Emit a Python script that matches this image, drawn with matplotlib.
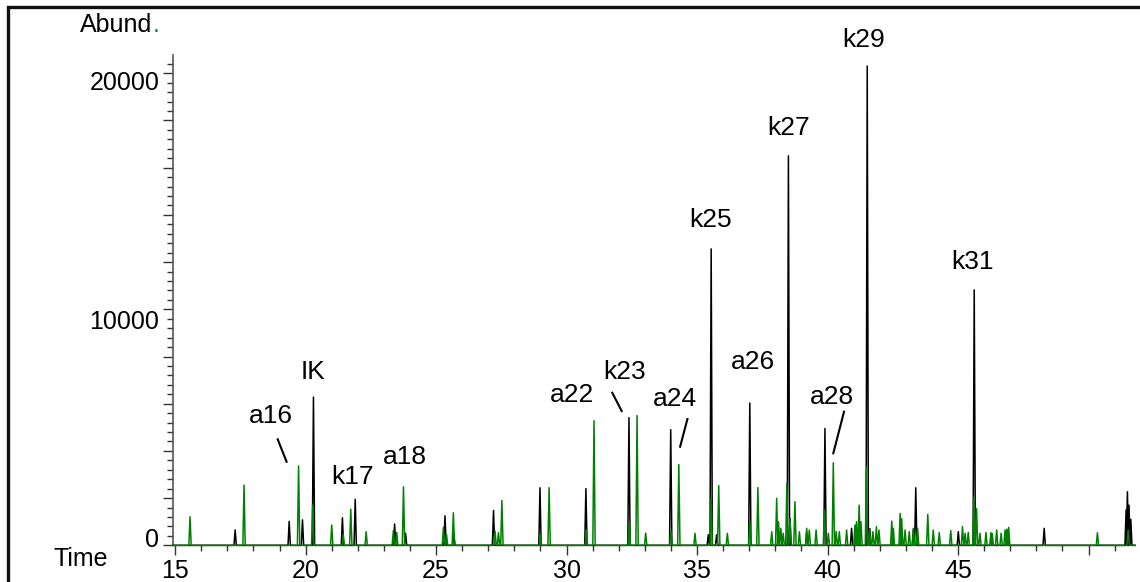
import numpy as np
import matplotlib.pyplot as plt
from matplotlib.patches import Rectangle
from matplotlib.ticker import MultipleLocator, FixedLocator
from matplotlib.transforms import ScaledTranslation

plt.rcParams['font.family'] = ['Liberation Sans', 'DejaVu Sans']

# Peak list of the black trace: retention time [min], abundance
black_t = [17.30, 19.37, 19.88, 20.30, 21.41, 21.90, 23.41, 23.83, 25.34, 25.68,
           27.20, 28.98, 30.74, 32.39, 33.99, 35.43, 35.54, 35.75, 37.02, 38.50,
           38.56, 39.20, 39.90, 40.92, 41.52, 41.62, 43.29, 43.38, 45.01, 45.62,
           48.30, 51.44, 51.49, 51.55, 51.62]
black_h = [650, 1017, 1080, 6280, 1170, 1950, 900, 510, 1250, 500,
           1480, 2440, 2400, 5410, 4900, 450, 12560, 450, 6030, 16500,
           1140, 550, 4950, 720, 20310, 700, 700, 2440, 580, 10820,
           720, 1500, 2270, 1700, 1100]

# Peak list of the green trace
green_t = [15.57, 17.64, 19.73, 20.27, 21.00, 21.44, 21.73, 22.32, 23.36, 23.49,
           23.75, 25.28, 25.40, 25.66, 27.26, 27.39, 27.52, 29.00, 29.33, 30.76,
           31.05, 32.40, 32.70, 33.03, 34.00, 34.30, 34.92, 35.54, 35.83, 36.16,
           37.02, 37.33, 37.86, 38.05, 38.12, 38.21, 38.30, 38.44, 38.56, 38.75,
           38.92, 39.20, 39.30, 39.56, 39.88, 40.03, 40.22, 40.33, 40.45, 40.73,
           41.05, 41.11, 41.21, 41.28, 41.49, 41.61, 41.74, 41.87, 41.97, 42.46,
           42.52, 42.78, 42.84, 42.97, 43.13, 43.29, 43.45, 43.84, 44.05, 44.28,
           44.72, 45.17, 45.27, 45.39, 45.61, 45.71, 45.84, 46.07, 46.26, 46.31,
           46.48, 46.65, 46.80, 46.87, 46.94, 50.34, 51.52]
green_h = [1210, 2555, 3360, 1710, 860, 470, 1525, 575, 620, 550,
           2480, 760, 450, 1380, 600, 540, 1900, 450, 2444, 650,
           5280, 1000, 5500, 520, 620, 3420, 508, 1990, 2530, 508,
           1070, 2444, 577, 1990, 1000, 720, 508, 2627, 1140, 1850,
           577, 720, 650, 650, 1500, 510, 3500, 580, 580, 650,
           860, 1000, 1700, 1000, 3316, 650, 580, 790, 650, 1030,
           720, 1350, 1130, 650, 580, 720, 720, 1310, 650, 540,
           620, 790, 510, 550, 2050, 1550, 510, 540, 540, 500,
           650, 510, 650, 680, 760, 534, 650]

# Peak labels (text, x, y) and leader lines
labels = [("a16", 18.68, 5478), ("IK", 20.29, 7343), ("k17", 21.78, 2894),
          ("a18", 23.81, 3741), ("k23", 32.24, 7343), ("a22", 30.21, 6368),
          ("a24", 34.16, 6199), ("k25", 35.50, 13783), ("a26", 37.15, 7767),
          ("k27", 38.52, 17681), ("a28", 40.17, 6284), ("k29", 41.40, 21420),
          ("k31", 45.57, 12004)]
leaders = [((18.93, 4491), (19.27, 3542)),
           ((31.75, 6466), (32.11, 5690)),
           ((34.63, 5351), (34.35, 4178)),
           ((40.63, 5660), (40.22, 3898))]

x_lo, x_hi = 14.92, 51.78
y_hi = 20774
w = 0.045  # half width of a peak in minutes


def trace(ts, hs):
    order = np.argsort(ts)
    xs = [x_lo]
    ys = [0]
    for i in order:
        xs += [ts[i] - w, ts[i], ts[i] + w]
        ys += [0, hs[i], 0]
    xs.append(x_hi)
    ys.append(0)
    return xs, ys


fig = plt.figure(figsize=(11.4, 5.82), dpi=100)
ax = fig.add_axes([0.1518, 0.0630, 0.8438, 0.8425])

bx, by = trace(black_t, black_h)
gx, gy = trace(green_t, green_h)
ax.plot(bx, by, color='black', lw=1.1, clip_on=False, zorder=3)
ax.plot(gx, gy, color='#008000', lw=1.1, clip_on=False, zorder=4)

ax.set_xlim(x_lo, x_hi)
ax.set_ylim(0, y_hi)

for s in ['top', 'right']:
    ax.spines[s].set_visible(False)
ax.spines['left'].set_color('#555555')
ax.spines['left'].set_linewidth(1.2)
ax.spines['bottom'].set_color('#333333')

ax.xaxis.set_major_locator(FixedLocator([15, 20, 25, 30, 35, 40, 45, 50]))
ax.set_xticklabels(['15', '20', '25', '30', '35', '40', '45', ''])
ax.xaxis.set_minor_locator(MultipleLocator(1))
ax.yaxis.set_minor_locator(MultipleLocator(400))
ytl = []
for v in np.arange(0, 21000, 2000):
    ytl.append(str(int(v)) if v in (0, 10000, 20000) else '')
ax.set_yticks(np.arange(0, 21000, 2000))
ax.set_yticklabels(ytl)

ax.tick_params(axis='both', which='major', length=7, width=1.0, color='#333333',
               labelsize=18, pad=3)
ax.tick_params(axis='both', which='minor', length=4.5, width=1.0, color='#333333')

# the y labels sit a little off their ticks in the original
shift = {'0': 8, '10000': -10, '20000': -7}
for lab in ax.get_yticklabels():
    d = shift.get(lab.get_text(), 0)
    lab.set_transform(lab.get_transform() + ScaledTranslation(0, d / 100, fig.dpi_scale_trans))

for txt, tx, ty in labels:
    if txt == "a22":
        ax.text(tx, ty, txt, fontsize=19, ha='center', va='center', zorder=6,
                bbox=dict(facecolor='white', edgecolor='none', pad=0.5))
    else:
        ax.text(tx, ty, txt, fontsize=19, ha='center', va='center', zorder=5,
                clip_on=False)

for (x0, y0), (x1, y1) in leaders:
    ax.plot([x0, x1], [y0, y1], color='black', lw=1.5, zorder=5)

ab = fig.text(0.0702, 0.957, "Abund", fontsize=18, ha='left', va='center')
ax.annotate(".", xy=(1, 0), xycoords=ab, ha='left', va='bottom',
            fontsize=18, color='#008080')
fig.text(0.0465, 0.039, "Time", fontsize=18, ha='left', va='center')

fig.patches.append(Rectangle((0.0066, -0.2), 1.2, 0.2 + 0.9885,
                             transform=fig.transFigure, fill=False,
                             edgecolor='#111111', lw=2.4))

fig.savefig("out.png", dpi=100)
